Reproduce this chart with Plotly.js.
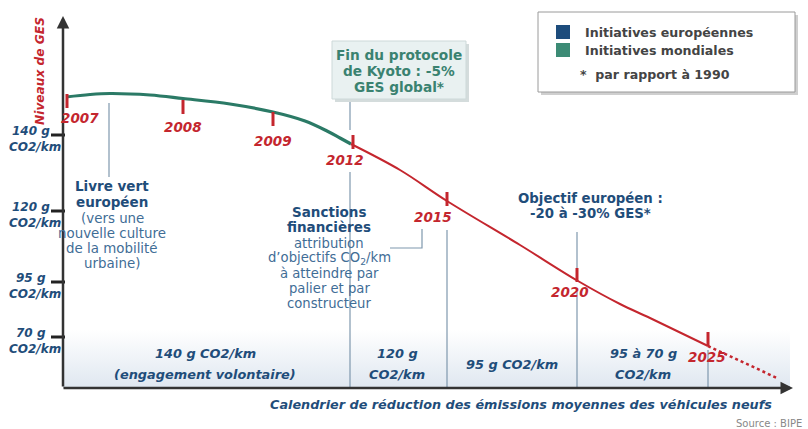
<!DOCTYPE html>
<html><head><meta charset="utf-8">
<script src="https://cdn.plot.ly/plotly-3.0.1.min.js"></script>
<style>html,body{margin:0;padding:0;background:#fff}#c{width:808px;height:429px}</style>
</head><body><div id="c"></div>
<script>
// Curve values (horizontal position along the timeline, GES level position)
const greenX = [66, 90, 110, 150, 183, 230, 273, 305, 327, 340, 351];
const greenY = [97, 94.5, 93.5, 95, 98.5, 104, 112, 121, 131, 138, 144];
const redX = [351, 400, 447, 520, 578, 620, 650, 708];
const redY = [144, 170, 201, 245, 281, 304, 318, 346];
const dotX = [708, 742, 777];
const dotY = [346, 362, 378];

// Year markers
const years = ['2007', '2008', '2009', '2012', '2015', '2020', '2025'];
const yearX = [67, 183, 273, 353, 447, 577, 708];
const yearY = [101, 107, 119, 142, 199, 275, 339];
const yearLabelX = [80, 183, 273, 345, 433, 570, 707];
const yearLabelY = [118, 127, 141, 160, 217, 292, 357];

// Y tick labels
const yTickLabels = ['140 g', '120 g', '95 g', '70 g'];
const yTickPos = [135, 211, 282, 337];

// Phase labels
const phaseLabels = [['140 g CO2/km', '(engagement volontaire)'], ['120 g', 'CO2/km'], ['95 g CO2/km'], ['95 à 70 g', 'CO2/km']];
const phaseLabelX = [205, 397, 512, 643];

const RED = '#c4262e', BLUE = '#1f4d7a', TEAL = '#3a8270', GREEN = '#2b7a66', LBLUE = '#3f6d96';
const F = 'DejaVu Sans, Liberation Sans, sans-serif';

const traces = [
  {x: [63, 790, 790, 63, 63], y: [330, 330, 388, 388, 330], mode: 'lines', fill: 'toself', line: {width: 0},
   fillgradient: {type: 'vertical', colorscale: [[0, '#dfe7f0'], [1, '#ffffff']]}, hoverinfo: 'skip'},
  {x: greenX, y: greenY, mode: 'lines', line: {color: GREEN, width: 3.2, shape: 'spline'}},
  {x: redX, y: redY, mode: 'lines', line: {color: RED, width: 2, shape: 'spline'}},
  {x: dotX, y: dotY, mode: 'lines', line: {color: RED, width: 2.5, dash: 'dot'}},
  {x: yearX, y: yearY, mode: 'markers', marker: {symbol: 'line-ns', size: 10, line: {color: RED, width: 3}}},
  {x: yTickPos.map(() => 58), y: yTickPos, mode: 'markers', marker: {symbol: 'line-ew', size: 10, line: {color: '#222', width: 3}}}
];

const shapes = [];
const lineC = '#7f98ad';
shapes.push({type: 'line', x0: 109, x1: 109, y0: 103, y1: 177, line: {color: lineC, width: 1.2}});
shapes.push({type: 'line', x0: 350, x1: 350, y0: 101, y1: 130, line: {color: lineC, width: 1.2}});
shapes.push({type: 'line', x0: 350, x1: 350, y0: 172, y1: 388, line: {color: lineC, width: 1.2}});
shapes.push({type: 'line', x0: 447, x1: 447, y0: 230, y1: 388, line: {color: lineC, width: 1.2}});
shapes.push({type: 'line', x0: 577, x1: 577, y0: 232, y1: 268, line: {color: lineC, width: 1.2}});
shapes.push({type: 'line', x0: 577, x1: 577, y0: 290, y1: 388, line: {color: lineC, width: 1.2}});
shapes.push({type: 'line', x0: 708, x1: 708, y0: 350, y1: 388, line: {color: lineC, width: 1.2}});
shapes.push({type: 'path', path: 'M 390 248 L 422 248 L 422 229', line: {color: lineC, width: 1.2}});
shapes.push({type: 'rect', x0: 335, x1: 469, y0: 44, y1: 102, fillcolor: '#d4dcdc', line: {width: 0}});
shapes.push({type: 'rect', x0: 332, x1: 466, y0: 41, y1: 99, fillcolor: '#e9f1f1', line: {color: '#cdd9d9', width: 1}});
shapes.push({type: 'rect', x0: 541, x1: 798, y0: 15, y1: 95, fillcolor: '#cfcfcf', line: {width: 0}});
shapes.push({type: 'rect', x0: 538, x1: 795, y0: 12, y1: 92, fillcolor: '#ffffff', line: {color: '#9a9a9a', width: 1}});
shapes.push({type: 'rect', x0: 556, x1: 570, y0: 25, y1: 39, fillcolor: '#1d4c7c', line: {width: 0}});
shapes.push({type: 'rect', x0: 556, x1: 570, y0: 43, y1: 57, fillcolor: '#3c8b75', line: {width: 0}});

const ann = [];
function T(x, y, text, opts) {
  ann.push(Object.assign({x: x, y: y, xref: 'x', yref: 'y', text: text, showarrow: false,
    font: {family: F, size: 13, color: BLUE}}, opts || {}));
}
function ML(x, y0, dy, lines, wrap, size, color, extra) {
  lines.forEach((l, i) => T(x, y0 + i * dy, wrap[0] + l + wrap[1], Object.assign({font: {family: F, size: size, color: color}}, extra || {})));
}
ann.push({x: 63, y: 16, ax: 63, ay: 388, xref: 'x', yref: 'y', axref: 'x', ayref: 'y', text: '', showarrow: true,
  arrowhead: 2, arrowsize: 1, arrowwidth: 2.5, arrowcolor: '#333'});
ann.push({x: 793, y: 388, ax: 62, ay: 388, xref: 'x', yref: 'y', axref: 'x', ayref: 'y', text: '', showarrow: true,
  arrowhead: 2, arrowsize: 1, arrowwidth: 2.5, arrowcolor: '#333'});

T(40, 71, '<b><i>Niveaux de GES</i></b>', {textangle: -90, font: {family: F, size: 12.2, color: RED}});
yTickLabels.forEach((t, i) => {
  T(31, yTickPos[i] - 4, '<b><i>' + t + '</i></b>', {font: {family: F, size: 12, color: BLUE}});
  T(35, yTickPos[i] + 12, '<b><i>CO2/km</i></b>', {font: {family: F, size: 12, color: BLUE}});
});
years.forEach((t, i) => T(yearLabelX[i], yearLabelY[i], '<b><i>' + t + '</i></b>', {font: {family: F, size: 13.5, color: RED}}));
phaseLabels.forEach((lines, i) => {
  const y0 = lines.length === 1 ? 364 : 353;
  ML(phaseLabelX[i], y0, 21, lines, ['<b><i>', '</i></b>'], 12.9, BLUE);
});
T(521, 404, '<b><i>Calendrier de réduction des émissions moyennes des véhicules neufs</i></b>', {font: {family: F, size: 12.8, color: BLUE}});
T(769, 423, 'Source : BIPE', {font: {family: F, size: 10, color: '#888'}});

ML(399, 55, 16, ['Fin du protocole', 'de Kyoto : -5%', 'GES global*'], ['<b>', '</b>'], 13.7, TEAL);
T(583, 32, '<b>Initiatives européennes</b>', {xanchor: 'left', font: {family: F, size: 12.6, color: '#444'}});
T(583, 50, '<b>Initiatives mondiales</b>', {xanchor: 'left', font: {family: F, size: 12.6, color: '#444'}});
T(578, 74, '<b>*  par rapport à 1990</b>', {xanchor: 'left', font: {family: F, size: 12.6, color: '#444'}});
ML(112, 186, 16, ['Livre vert', 'européen'], ['<b>', '</b>'], 13.5, BLUE);
ML(112, 218, 15, ['(vers une', 'nouvelle culture', 'de la mobilité', 'urbaine)'], ['', ''], 13.4, LBLUE);
ML(329, 212, 15, ['Sanctions', 'financières'], ['<b>', '</b>'], 13.5, BLUE);
ML(329, 243, 15, ['attribution', 'd’objectifs CO<sub>2</sub>/km', 'à atteindre par', 'palier et par', 'constructeur'], ['', ''], 13.2, LBLUE);
ML(590, 198, 15.5, ['Objectif européen :', '-20 à -30% GES*'], ['<b>', '</b>'], 13.3, BLUE);

const layout = {
  width: 808, height: 429, margin: {l: 0, r: 0, t: 0, b: 0},
  paper_bgcolor: '#fff', plot_bgcolor: '#fff', showlegend: false,
  xaxis: {range: [0, 808], visible: false, fixedrange: true},
  yaxis: {range: [429, 0], visible: false, fixedrange: true},
  shapes: shapes, annotations: ann
};
Plotly.newPlot('c', traces, layout, {staticPlot: true});
</script></body></html>
